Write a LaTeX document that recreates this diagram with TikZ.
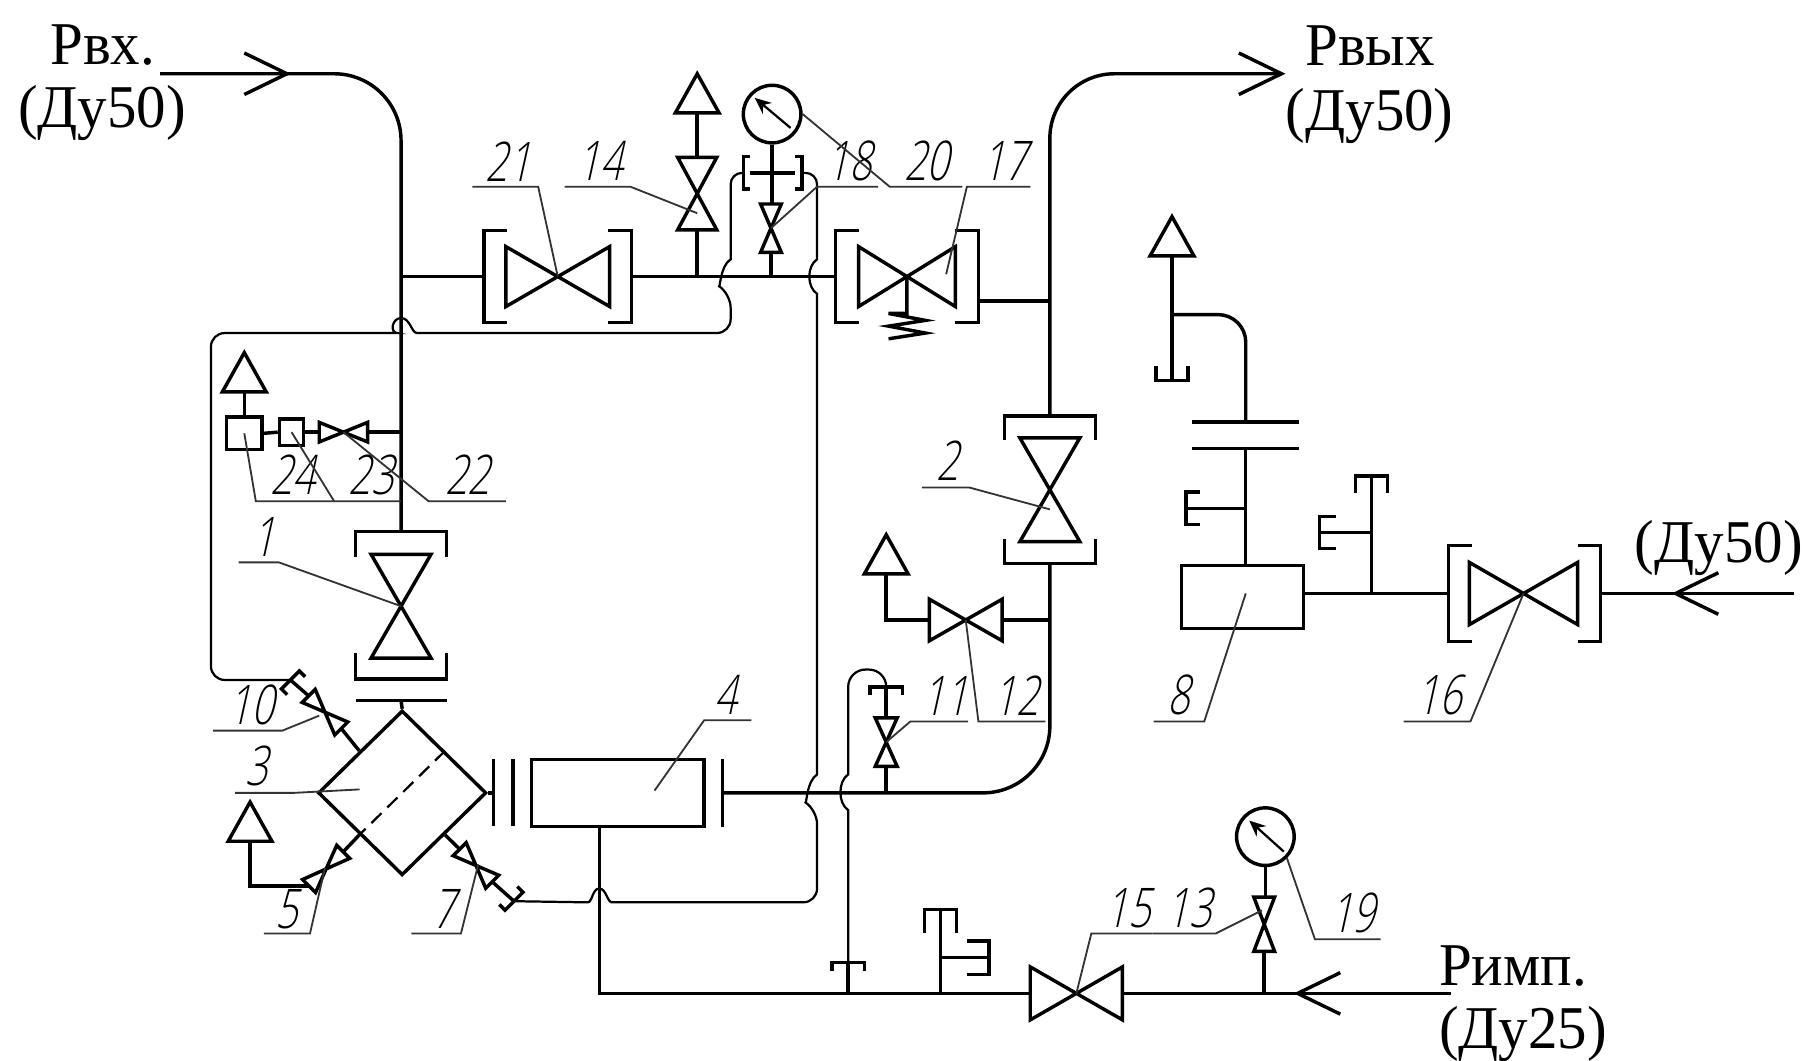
\documentclass[tikz,border=0pt]{standalone}
\usepackage{fontspec}
\usetikzlibrary{calc, arrows.meta, shapes.geometric}
\newfontfamily\capfont[FakeStretch=0.97]{Liberation Serif}
\newfontfamily\numfont[FakeStretch=0.72,FakeSlant=0.22]{Open Sans Light}
\tikzset{
  pipe/.style={line width=0.85pt},
  impulse/.style={line width=0.55pt},
  leader/.style={line width=0.45pt, black!80},
  caption/.style={font=\fontsize{15}{18}\capfont, inner sep=0pt, anchor=base west},
  num/.style={font=\fontsize{13.5}{16}\numfont, inner sep=0pt},
  pics/valve/.style 2 args={code={
    \draw[pipe] (-#1,-#2) -- (#1,#2) -- (#1,-#2) -- (-#1,#2) -- cycle;
    \coordinate (-a) at (-#1,0);
    \coordinate (-b) at (#1,0);
    \coordinate (-c) at (0,0);
  }},
  pics/bracket/.style 2 args={code={
    \draw[pipe] (#2,-#1) -- (0,-#1) -- (0,#1) -- (#2,#1);
    \coordinate (-c) at (0,0);
  }},
  pics/vent/.style={code={
    \draw[pipe] (-19,0) -- (0,-34) -- (19,0) -- cycle;
    \coordinate (-c) at (0,0);
  }},
  pics/barb/.style={code={
    \draw[pipe] (-37,-18) -- (0,0) -- (-37,18);
    \coordinate (-c) at (0,0);
  }},
  gauge/.style={draw, pipe, circle, minimum size=5mm, inner sep=0pt},
  unit/.style={draw, pipe, rectangle, inner sep=0pt},
}
\begin{document}
\begin{tikzpicture}[x=0.1mm, y=-0.1mm]
  \useasboundingbox (0,0) rectangle (1568,920);

  % Valves
  \pic (v21) at (484,240) {valve={45}{26}};
  \pic (v17) at (787,240) {valve={42}{26}};
  \pic (v16) at (1322,515) {valve={47}{27}};
  \pic (v12) at (838,538) {valve={31.5}{18}};
  \pic (v15) at (934,862) {valve={40}{23}};
  \pic (v22) at (298,375) {valve={21}{8.5}};
  \pic[rotate=90] (v1) at (348,526) {valve={45}{26}};
  \pic[rotate=90] (v2) at (911,425) {valve={45}{26}};
  \pic[rotate=90] (v14) at (605,168) {valve={31.5}{17}};
  \pic[rotate=90] (v18) at (669,198) {valve={21}{9}};
  \pic[rotate=90] (v11) at (769,644) {valve={21}{9.5}};
  \pic[rotate=90] (v13) at (1097,802) {valve={23.5}{9}};
  \pic[rotate=135] (v10) at (282,618) {valve={20}{8}};
  \pic[rotate=-135] (v5) at (283,754) {valve={21}{8}};
  \pic[rotate=-45] (v7) at (413,751) {valve={20}{8}};

  % Flanges and caps
  \pic (b21l) at (420,240) {bracket={40}{20}};
  \pic[rotate=180] (b21r) at (548,240) {bracket={40}{20}};
  \pic (b17l) at (725,240) {bracket={40}{20}};
  \pic[rotate=180] (b17r) at (849,240) {bracket={40}{20}};
  \pic (b16l) at (1257,515) {bracket={41.5}{20}};
  \pic[rotate=180] (b16r) at (1389,515) {bracket={41.5}{20}};
  \pic[rotate=-90] (b1t) at (348,461) {bracket={39.5}{22}};
  \pic[rotate=90] (b1b) at (348,589) {bracket={39.5}{22}};
  \pic[rotate=-90] (b2t) at (911,361) {bracket={39.5}{21}};
  \pic[rotate=90] (b2b) at (911,489) {bracket={39.5}{21}};
  \pic[rotate=90] (bflt) at (348,608) {bracket={39.5}{0}};
  \pic (bin1) at (428,688) {bracket={29}{0}};
  \pic (bin2) at (445,688) {bracket={29}{0}};
  \pic (b4r) at (627,688) {bracket={29.5}{0}};
  \pic[rotate=90] (bar1) at (1081,366) {bracket={46.5}{0}};
  \pic[rotate=90] (bar2) at (1081,389) {bracket={46.5}{0}};
  \pic (bgl) at (645,150) {bracket={14}{6}};
  \pic[rotate=180] (bgr) at (696,150) {bracket={14}{6}};
  \pic[rotate=-45] (cap10) at (252,590) {bracket={11}{7}};
  \pic[rotate=135] (cap7) at (446,782) {bracket={11}{7}};
  \pic[rotate=-90] (cap11) at (769,596) {bracket={14}{7}};
  \pic[rotate=-90] (capa) at (736,835) {bracket={14}{8}};
  \pic[rotate=-90] (capb) at (816,789) {bracket={14}{21}};
  \pic[rotate=180] (capc) at (858,831) {bracket={14.5}{19}};
  \pic[rotate=90] (capd) at (1017,330) {bracket={14}{12}};
  \pic (cape) at (1029,441) {bracket={14}{12}};
  \pic[rotate=-90] (capf) at (1190,413) {bracket={14}{15}};
  \pic (capg) at (1145,462) {bracket={14}{14}};

  % Vents
  \pic (ventv14) at (605,98) {vent};
  \pic (ventin) at (212,340) {vent};
  \pic (ventv12) at (769,498) {vent};
  \pic (ventv5) at (217,730) {vent};
  \pic (vent8) at (1017,222) {vent};

  % Units
  \node[draw, pipe, diamond, aspect=1, inner sep=0pt, minimum width=14.6mm, minimum height=14.3mm] (flt) at (349,688) {};
  \node[unit, minimum width=15mm, minimum height=5.8mm] (box4) at (536,688) {};
  \node[unit, minimum width=10.6mm, minimum height=5.5mm] (box8) at (1078,518) {};
  \node[unit, minimum width=3.1mm, minimum height=2.8mm] (box24) at (212,376) {};
  \node[unit, minimum width=2.1mm, minimum height=2.3mm] (box23) at (253,375) {};
  \node[gauge] (gauge20) at (670,99) {};
  \node[gauge] (gauge19) at (1098,726) {};

  % Gauge needles
  \draw[impulse, -{Stealth[length=4pt, width=3.5pt]}] ($(gauge20.center)+(16,12)$) -- ($(gauge20.center)+(-15,-14)$);
  \draw[impulse, -{Stealth[length=4pt, width=3.5pt]}] ($(gauge19.center)+(16,13)$) -- ($(gauge19.center)+(-14,-14)$);

  % Free ends and tees
  \coordinate (inlet) at (139,64);
  \coordinate (outlet) at (1112,64);
  \coordinate (inlet16) at (1557,515);
  \coordinate (rimp) at (1259,862);
  \coordinate (out17) at (849,261);
  \coordinate (teein) at (348,240);
  \coordinate (tee22) at (348,375);
  \coordinate (teeout) at (911,261);
  \coordinate (tee4) at (520,717);
  \coordinate (tee8) at (1017,273);

  % Main lines
  \draw[pipe, rounded corners=5.8mm] (inlet) -| (b1t-c);
  \draw[pipe, rounded corners=5.6mm] (b2t-c) |- (outlet);
  \draw[pipe, rounded corners=5.8mm] (b4r-c) -| (b2b-c);
  \draw[pipe] (teein) -- (b21l-c);
  \draw[pipe] (b21r-c) -- (b17l-c);
  \draw[pipe] (out17) -- (teeout);
  \draw[pipe] (bflt-c) -- (flt.north);
  \draw[pipe] (flt.east) -- (bin1-c);
  \draw[pipe] (tee4) |- (v15-a);
  \draw[pipe] (v15-b) -- (rimp);

  % Branches
  \draw[pipe] (ventv14-c) -- (v14-b);
  \draw[pipe] (v14-a) -- (v14-a |- b21r-c);
  \draw[pipe] (gauge20.south) -- (gauge20.south |- v18-b);
  \draw[pipe] (v18-a) -- (v18-a |- b21r-c);
  \draw[pipe] (ventin-c) -- (box24.north);
  \draw[pipe] (box24.east) -- (box23.west);
  \draw[pipe] (box23.east) -- (v22-a);
  \draw[pipe] (v22-b) -- (tee22);
  \draw[pipe] (flt.north west) -- (v10-a);
  \draw[pipe] (v10-b) -- (cap10-c);
  \draw[pipe] (flt.south west) -- (v5-a);
  \draw[pipe] (v5-b) -| (ventv5-c);
  \draw[pipe] (flt.south east) -- (v7-a);
  \draw[pipe] (v7-b) -- (cap7-c);
  \draw[pipe] (ventv12-c) |- (v12-a);
  \draw[pipe] (v12-b) -- (v12-b -| v2-c);
  \draw[pipe] (cap11-c) -- (v11-b);
  \draw[pipe] (v11-a) -- (v11-a |- b4r-c);
  \draw[pipe] (gauge19.south) -- (gauge19.south |- v13-b);
  \draw[pipe] (v13-a) -- (v13-a |- rimp);
  \draw[pipe] (capa-c) -- (capa-c |- rimp);
  \draw[pipe] (capb-c) -- (capb-c |- rimp);
  \draw[pipe] (capc-c) -- (capc-c -| capb-c);
  \draw[pipe] (v17-c) -- (787,272) -- (771,272) -- (803,278) -- (771,283) -- (803,289) -- (771,294);

  % Right assembly
  \draw[pipe] (vent8-c) -- (capd-c);
  \draw[pipe, rounded corners=2.4mm] (tee8) -| (bar1-c);
  \draw[pipe] (bar2-c) -- (bar2-c |- box8.north);
  \draw[pipe] (cape-c) -- (cape-c -| bar2-c);
  \draw[pipe] (b16l-c -| box8.east) -- (b16l-c);
  \draw[pipe] (capf-c) -- (capf-c |- b16l-c);
  \draw[pipe] (capg-c) -- (capg-c -| capf-c);
  \draw[pipe] (b16r-c) -- (inlet16);

  % Flow arrows
  \pic at (249,64) {barb};
  \pic at (outlet) {barb};
  \pic[rotate=180] at (1454,515) {barb};
  \pic[rotate=180] at (1126,862) {barb};

  % Filter partition
  \draw[impulse, dash pattern=on 3.5pt off 2pt] (flt.north east) -- (flt.south west);

  % Impulse lines with hops
  \draw[impulse] (cap10-c) [rounded corners=1.2mm] -- (183,590) -- (183,289) -- (333,289) [sharp corners]
    .. controls +(5,0) and +(-8,0) .. (348,276) .. controls +(8,0) and +(-5,0) .. (362,289)
    [rounded corners=1.2mm] -- (634,289) -- (634,255) [sharp corners]
    .. controls +(-9,-6) and +(-9,6) .. (634,225) [rounded corners=1mm] -- (634,150) -- (bgl-c);
  \draw[impulse] (cap7-c) -- (510,783) [sharp corners]
    .. controls +(4,0) and +(-6,0) .. (520,771) .. controls +(6,0) and +(-4,0) .. (531,783)
    [rounded corners=1.2mm] -- (709,783) -- (709,703) [sharp corners] .. controls +(-9,-6) and +(-9,6) .. (709,672)
    -- (709,255) .. controls +(-9,-6) and +(-9,6) .. (709,225) [rounded corners=1mm] -- (709,150) -- (bgr-c);
  \draw[impulse] (capa-c) -- (736,703) .. controls +(-9,-6) and +(-9,6) .. (736,672)
    [rounded corners=1.5mm] -- (736,581) -- (769,581) -- (cap11-c);

  % Gauge cross bar
  \draw[pipe] ($(bgl-c)+(6,0)$) -- ($(bgr-c)+(-6,0)$);

  % Leader targets
  \coordinate (t17) at (821,238);
  \coordinate (t14) at (605,185);
  \coordinate (t2) at (911,442);
  \coordinate (t3) at (312,685);
  \coordinate (t4) at (568,686);
  \coordinate (t10) at (277,621);
  \coordinate (t5) at (282,753);
  \coordinate (t7) at (415,750);
  \coordinate (t13) at (1095,790);
  \coordinate (t8) at (1081,515);

  % Item numbers: text x, text y, underline far end, underline bend, underline y, target
  \foreach \lbl/\tx/\ty/\ua/\ub/\uy/\tgt in {
    21/441/140/410/467/162/v21-c, 14/521/140/490/547/162/t14,
    18/737/140/762/709/162/v18-c, 20/804/140/835/772/162/gauge20.east,
    17/872/140/894/839/162/t17, 24/254/412/290/222/435/box24.center,
    23/322/412/348/290/435/box23.center, 22/406/412/439/372/435/v22-c,
    1/229/466/207/242/488/v1-c, 2/822/400/800/841/423/t2,
    10/218/612/185/245/634/t10, 3/223/665/204/255/688/t3,
    4/630/603/652/611/625/t4, 5/249/789/229/269/810/t5,
    7/385/789/357/400/810/t7, 11/820/604/840/790/626/v11-c,
    12/882/604/907/849/626/v12-c, 8/1023/603/1001/1045/626/t8,
    16/1249/603/1218/1276/626/v16-c, 15/979/788/1000/947/810/v15-c,
    13/1032/788/1000/1055/810/t13, 19/1174/792/1198/1141/815/gauge19.south east}
  {
    \node[num] (n\lbl) at (\tx,\ty) {\lbl};
    \coordinate (u\lbl) at (\ua,\uy);
    \coordinate (k\lbl) at (\ub,\uy);
    \draw[leader] (\tgt) -- (k\lbl) -- (u\lbl);
  }

  % Captions
  \node[caption] (pin) at (43,56) {Рвх.};
  \node[caption] (dnin) at (15,111) {(Ду50)};
  \node[caption] (pout) at (1132,57) {Рвых};
  \node[caption] (dnout) at (1115,113) {(Ду50)};
  \node[caption] (dn16) at (1418,488) {(Ду50)};
  \node[caption] (pimp) at (1248,855) {Римп.};
  \node[caption] (dnimp) at (1248,910) {(Ду25)};
\end{tikzpicture}
\end{document}
